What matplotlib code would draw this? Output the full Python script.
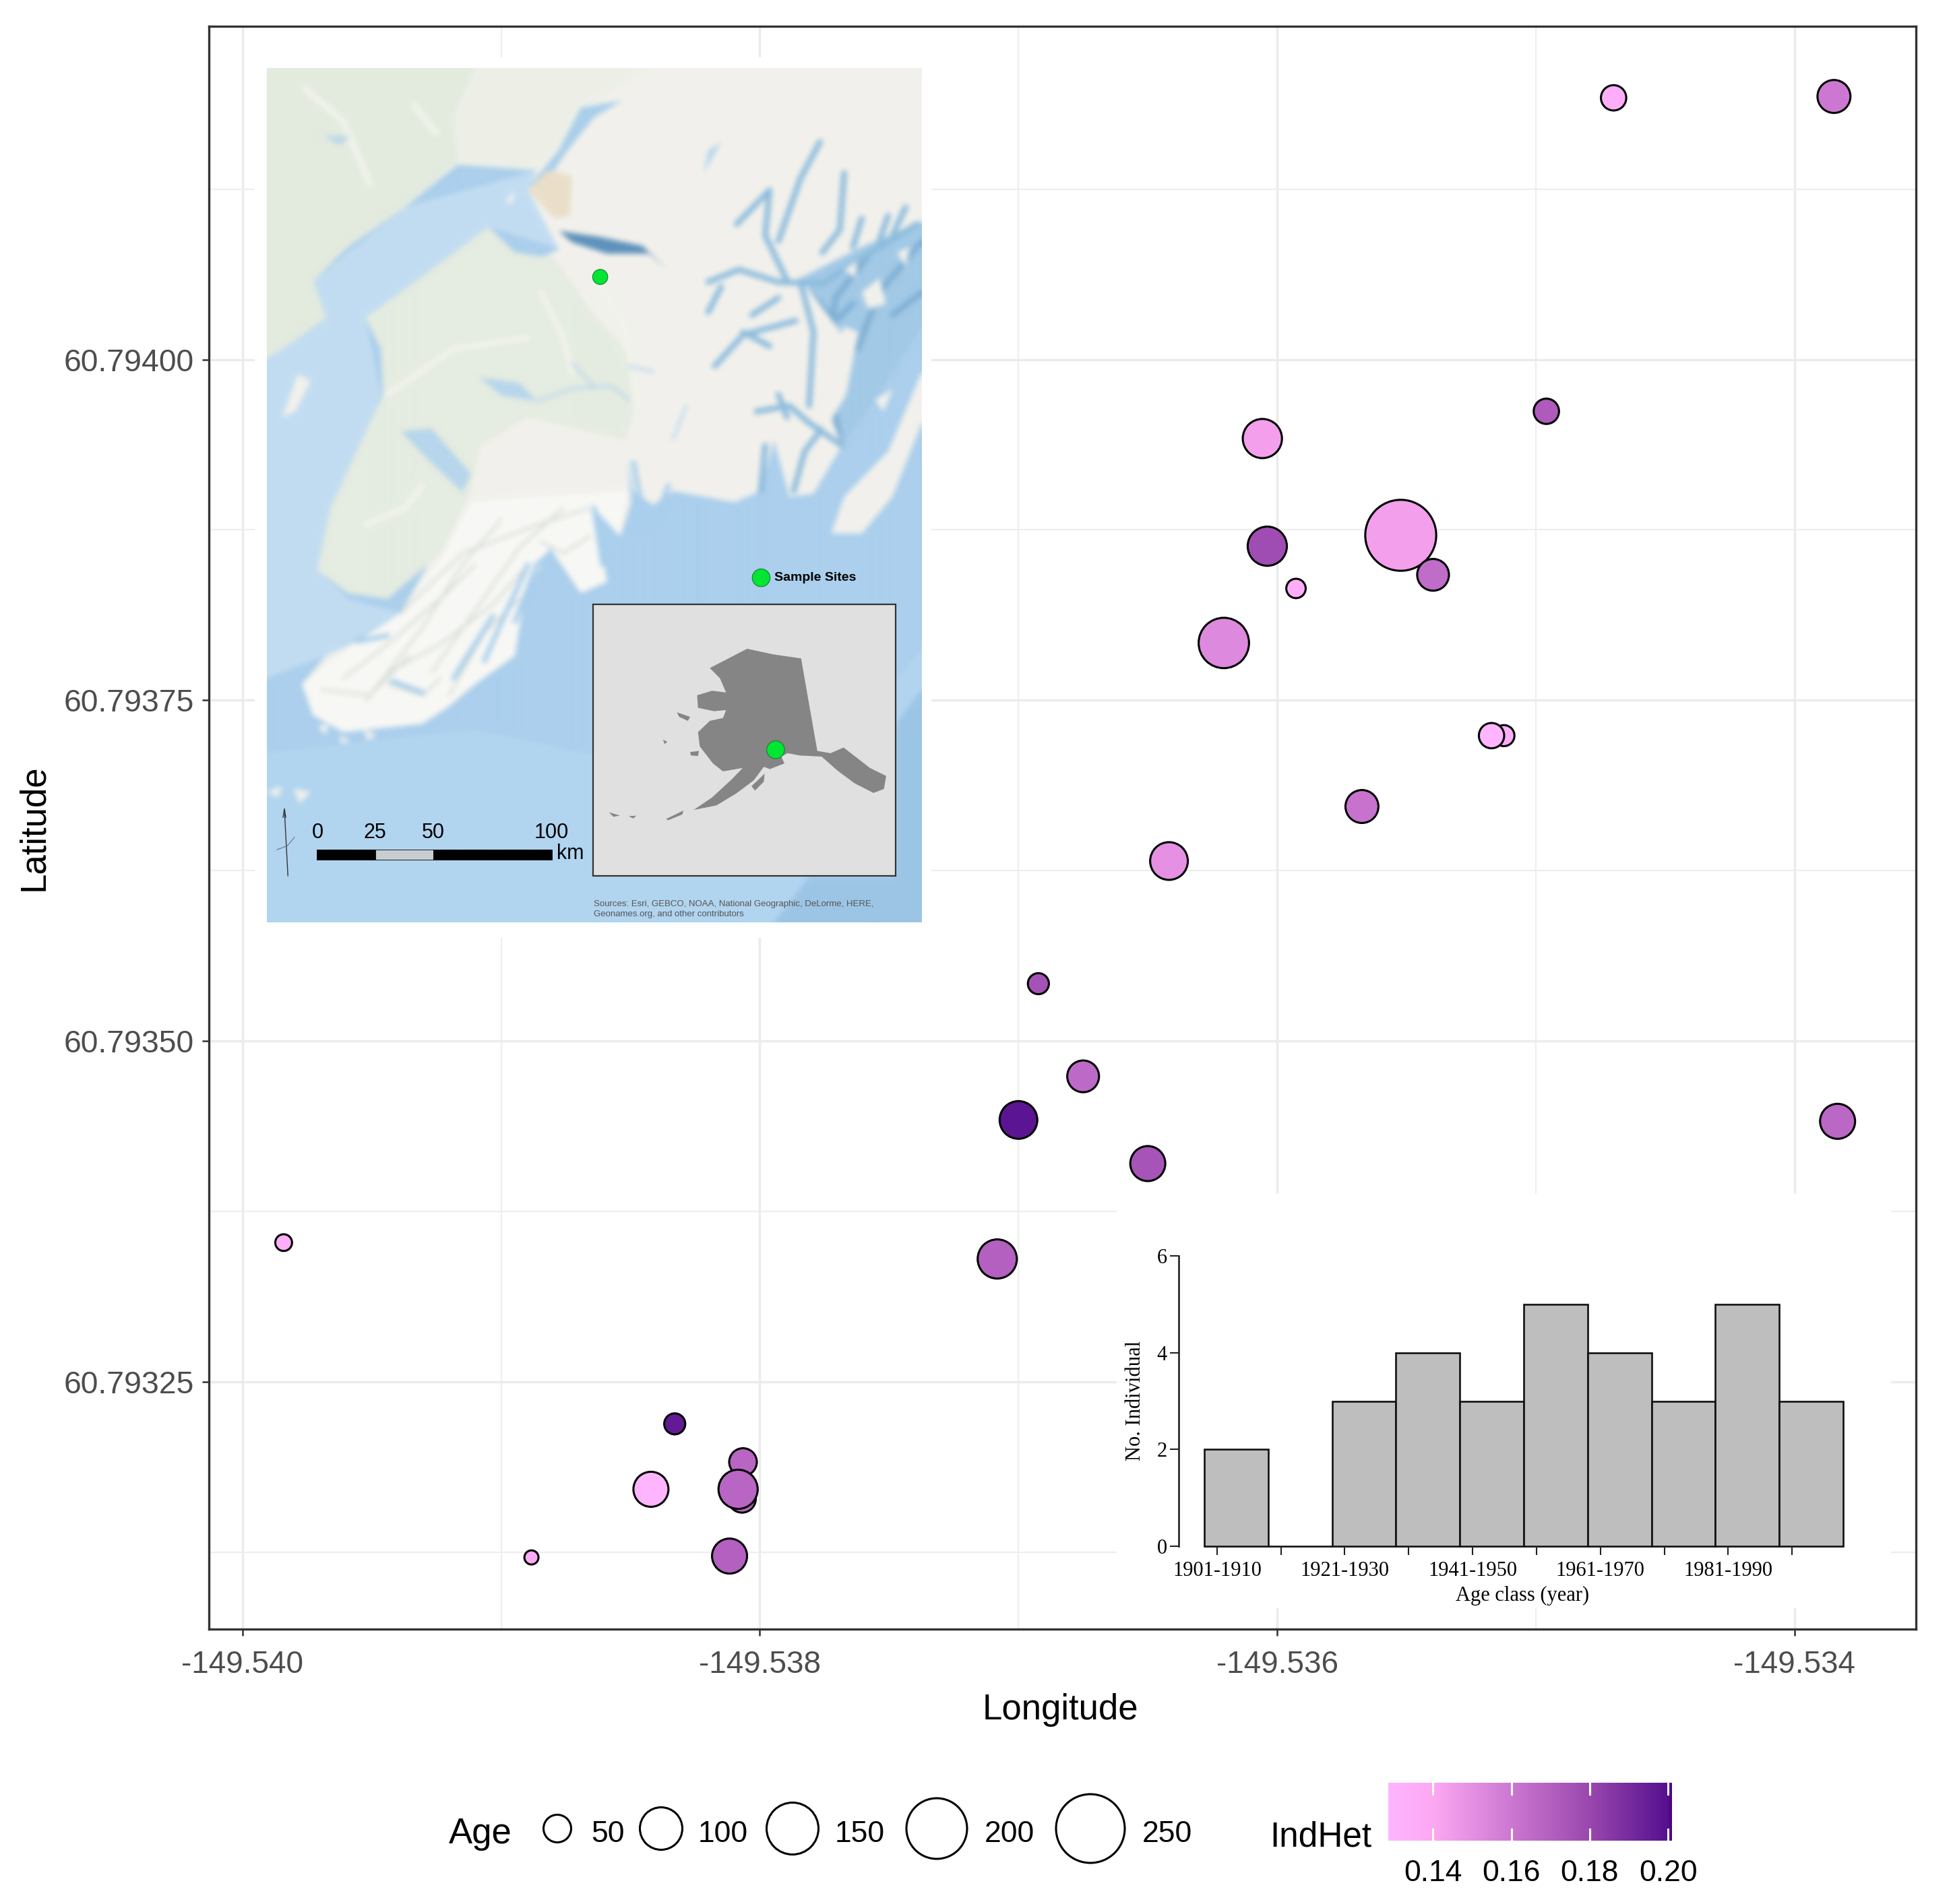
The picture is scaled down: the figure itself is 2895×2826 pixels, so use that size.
import numpy as np
import matplotlib
matplotlib.use("Agg")
import matplotlib.pyplot as plt
from matplotlib.colors import LinearSegmentedColormap
from matplotlib.patches import Rectangle, Polygon

W, H = 2895, 2826
SANS = "Liberation Sans"
SERIF = "Liberation Serif"

# ---- main scatter data
longitude = [-149.534699, -149.533847, -149.534959, -149.536057, -149.536038, -149.535522,
             -149.535397, -149.535927, -149.536206, -149.535123, -149.535171, -149.535672,
             -149.536418, -149.536923, -149.536750, -149.537000, -149.536500, -149.533833,
             -149.539841, -149.537082, -149.538329, -149.538065, -149.538069, -149.538084,
             -149.538421, -149.538883, -149.538117]
latitude = [60.794192, 60.794193, 60.793962, 60.793942, 60.793863, 60.793871,
            60.793842, 60.793832, 60.793792, 60.793724, 60.793724, 60.793672,
            60.793632, 60.793542, 60.793474, 60.793442, 60.793410, 60.793441,
            60.793352, 60.793340, 60.793219, 60.793191, 60.793164, 60.793171,
            60.793171, 60.793121, 60.793122]
age = [43, 68, 43, 89, 89, 258, 64, 25, 142, 30, 43, 68, 84, 30, 64, 84, 75, 75,
       17, 89, 30, 50, 50, 89, 75, 9, 75]
indhet = [0.135, 0.160, 0.172, 0.144, 0.178, 0.144, 0.165, 0.135, 0.153, 0.135, 0.130,
          0.162, 0.150, 0.176, 0.166, 0.198, 0.175, 0.167, 0.135, 0.170, 0.196, 0.168,
          0.168, 0.168, 0.130, 0.138, 0.170]
x_ticks = [-149.540, -149.538, -149.536, -149.534]
x_minor = [-149.539, -149.537, -149.535]
y_ticks = [60.79325, 60.79350, 60.79375, 60.79400]
y_minor = [60.793125, 60.793375, 60.793625, 60.793875, 60.794125]

# ---- legends
age_legend = [50, 100, 150, 200, 250]
age_table = [5, 50, 100, 150, 200, 250]
diam_table = [19, 41, 63, 77, 90, 102]
het_ticks = [0.14, 0.16, 0.18, 0.20]
het_limits = (0.1286, 0.201)
het_stops = [0.1286, 0.14, 0.16, 0.18, 0.20, 0.201]
het_colors = ["#FFB5FF", "#FDA8F2", "#CC78D2", "#9A48AE", "#56108F", "#4B0082"]

# ---- histogram
age_classes = ["1901-1910", "1911-1920", "1921-1930", "1931-1940", "1941-1950",
               "1951-1960", "1961-1970", "1971-1980", "1981-1990", "1991-2000"]
counts = [2, 0, 3, 4, 3, 5, 4, 3, 5, 3]

# ---- map outlines
map_land = [(25,25),(1517,25),(1517,295),(1380,340),(1240,395),(1360,520),(1310,640),(1335,690),
            (1270,775),(1215,780),(1180,680),(1150,770),(1090,790),(950,770),(905,795),(860,770),
            (845,715),(855,790),(830,850),(770,800),(800,930),(740,950),(670,870),(610,960),
            (590,1060),(500,1110),(440,1150),(380,1180),(300,1185),(200,1195),(130,1165),(105,1110),
            (160,1060),(240,1030),(330,985),(395,895),(300,960),(210,950),(140,910),(170,800),
            (260,650),(290,600),(285,520),(250,465),(400,380),(530,305),(575,345),(640,362),
            (690,345),(620,240),(640,205),(460,195),(340,270),(210,340),(130,400),(160,465),
            (60,520),(25,535)]
map_green_nw = [(25,25),(500,25),(450,110),(460,190),(340,270),(210,340),(130,400),(160,465),
                (60,520),(25,535)]
map_green_ne = [(500,25),(900,25),(760,90),(690,170),(640,205),(460,195),(450,110)]
map_green_pen = [(250,465),(400,380),(530,305),(590,350),(680,360),(760,450),(850,530),(860,640),
                 (840,680),(620,640),(510,690),(490,770),(420,880),(300,960),(210,950),(140,910),
                 (170,800),(260,650),(290,600),(285,520)]
map_snow = [(490,790),(640,780),(845,770),(830,850),(770,800),(800,930),(740,950),(670,870),
            (610,960),(590,1060),(500,1110),(380,1180),(200,1195),(130,1165),(105,1110),
            (240,1030),(330,985),(430,880)]
map_inlet_pale = [(25,535),(130,400),(340,270),(640,205),(700,345),(530,305),(250,465),(285,600),
                  (140,910),(210,960),(330,985),(160,1060),(25,1100)]
map_shelf_pale = [(25,1230),(500,1190),(800,1240),(1200,1200),(1458,1100),(1517,1050),(1517,1530),
                  (25,1530)]
map_deep = [(1458,1180),(1517,1120),(1517,1530),(1180,1530),(1260,1450),(1458,1450)]
map_knik = [(620,235),(690,170),(740,95),(835,82),(770,112),(705,175),(675,210)]
map_turnagain = [(690,312),(780,322),(880,338),(940,382),(895,352),(800,352),(720,332)]
map_anchorage = [(620,240),(665,205),(720,215),(715,285),(680,290)]
map_lakes = [[(330,665),(400,660),(490,740),(470,772),(380,705)],
             [(510,570),(600,580),(640,612),(560,602)],
             [(155,145),(215,145),(190,160)],
             [(1030,170),(1060,155),(1020,210)]]
map_rivers = [[(640,612),(720,590),(810,585),(850,610)],
              [(720,545),(770,585)],
              [(850,550),(905,560)],
              [(950,680),(980,620)]]
map_fjords = [[(1030,402),(1100,380),(1190,402),(1290,405),(1400,350),(1505,300)],
              [(1095,300),(1170,240),(1160,320),(1210,400)],
              [(1190,330),(1240,220),(1285,155)],
              [(1340,210),(1330,310),(1290,350)],
              [(1440,285),(1420,330)],
              [(1045,550),(1110,495),(1230,470)],
              [(1030,455),(1060,410)],
              [(1140,630),(1215,620),(1260,650),(1335,690)],
              [(1160,690),(1150,770)],
              [(1225,770),(1250,700),(1290,660)],
              [(1110,490),(1170,515)],
              [(1240,400),(1270,490),(1260,620)],
              [(1380,290),(1360,340)],
              [(1480,270),(1450,320)],
              [(1190,600),(1210,640)],
              [(1130,460),(1190,430)]]
map_sound_channels = [[(1400,350),(1320,430),(1300,560),(1330,680)],
                      [(1517,330),(1420,420),(1370,520)],
                      [(1450,460),(1517,420)],
                      [(1260,420),(1320,470),(1360,440)]]
map_bays = [[(770,800),(790,900)],
            [(620,900),(560,1000),(520,1070)],
            [(670,880),(640,900),(590,1000)],
            [(540,990),(450,1100)],
            [(380,1125),(310,1105)],
            [(860,720),(880,800),(870,840)],
            [(940,760),(905,830)],
            [(230,1035),(300,1025)]]
map_sound = [(1517,295),(1380,340),(1240,395),(1280,440),(1360,520),(1310,640),(1335,690),(1400,620),
             (1517,480)]
map_islands = [[(1310,845),(1340,780),(1440,700),(1517,560),(1517,650),(1450,780),(1380,845)],
               [(1270,625),(1340,480),(1372,490),(1345,600),(1295,665)],
               [(1380,420),(1420,395),(1435,440),(1395,450)],
               [(1410,610),(1450,590),(1430,630)],
               [(1340,380),(1370,365),(1365,395)],
               [(1460,350),(1490,340),(1480,375)],
               [(60,640),(95,565),(125,575),(90,630)],
               [(566,262),(590,240),(585,262)],
               [(25,1300),(60,1290),(50,1310)],
               [(85,1295),(125,1300),(100,1320)],
               [(140,1185),(165,1180),(160,1200)],
               [(190,1200),(215,1210),(195,1215)],
               [(245,1190),(275,1200),(255,1210)]]
map_ridges = [[(760,800),(640,830),(470,880),(330,985)],
              [(620,900),(540,970),(420,1040),(300,1090)],
              [(600,960),(520,1020),(440,1130)],
              [(760,850),(700,880),(650,860)],
              [(500,900),(420,960),(300,1040),(200,1100)],
              [(700,800),(600,870),(500,980),(400,1090)],
              [(560,820),(470,900),(380,1010),(250,1140)],
              [(300,1110),(380,1130),(420,1100)],
              [(150,1120),(260,1130),(350,1060)]]
map_green_strokes = [[(110,60),(200,120),(260,230)],
                     [(360,90),(410,140)],
                     [(300,600),(450,520),(620,500)],
                     [(650,420),(700,500),(720,560)],
                     [(250,830),(340,800),(380,760)],
                     [(780,400),(840,480),(870,620)]]
alaska = [(1035,1082),(1090,1060),(1120,1048),(1180,1058),(1243,1065),(1280,1228),(1310,1232),
          (1340,1222),(1400,1258),(1437,1272),(1432,1295),(1408,1302),(1365,1285),(1325,1262),
          (1290,1238),(1240,1236),(1212,1232),(1198,1238),(1205,1250),(1172,1260),(1158,1256),
          (1135,1280),(1095,1303),(1050,1324),(998,1332),(1040,1310),(1085,1278),(1110,1258),
          (1065,1264),(1042,1250),(1030,1238),(1012,1220),(1008,1195),(1035,1175),(1065,1170),
          (1072,1156),(1045,1158),(1008,1152),(1006,1130),(1040,1122),(1072,1125),(1058,1100)]
alaska_islands = [[(960,1160),(990,1168),(985,1175),(965,1168)],
                  [(990,1230),(1010,1228),(1008,1237),(992,1236)],
                  [(1130,1290),(1160,1268),(1158,1282),(1138,1298)],
                  [(935,1348),(975,1333),(972,1340),(940,1350)],
                  [(805,1336),(830,1342),(815,1344)],
                  [(850,1343),(868,1342),(860,1347)],
                  [(928,1208),(938,1212),(932,1216)]]
sample_points = [(785,393), (1152,923), (1185,1226)]
sample_diam = [34, 40, 40]
scale_segments = [(138,273,"black"), (273,405,"#C8CDD2"), (405,675,"black")]
scale_labels = [(140,"0"), (272,"25"), (405,"50"), (674,"100")]
source_text = ["Sources: Esri, GEBCO, NOAA, National Geographic, DeLorme, HERE,",
               "Geonames.org, and other contributors"]


def px_axes(fig, x0, y0, x1, y1, **kw):
    return fig.add_axes([x0 / W, 1 - y1 / H, (x1 - x0) / W, (y1 - y0) / H], **kw)


def diam_pts(a):
    return np.interp(a, age_table, diam_table) * 0.72 + np.maximum(np.asarray(a) - 250, 0) * 0.3


def render_basemap(w_px, h_px):
    """Draw the shaded map layers on a scratch canvas and soften them like the scanned original."""
    f = plt.figure(figsize=(w_px / 100, h_px / 100), dpi=100)
    a = f.add_axes([0, 0, 1, 1])
    a.set_xlim(25, 1517)
    a.set_ylim(1530, 25)
    a.axis("off")
    f.patch.set_facecolor("#ABCFEC")

    def poly(pts, color, z):
        a.add_patch(Polygon(pts, closed=True, fc=color, ec="none", zorder=z))

    def stroke(pts, color, lw, z):
        xs, ys = zip(*pts)
        a.plot(xs, ys, color=color, lw=lw, zorder=z, solid_capstyle="round", solid_joinstyle="round")

    poly(map_shelf_pale, "#B2D5F0", 1)
    poly(map_deep, "#9CC5E6", 1.1)
    poly(map_inlet_pale, "#C2DDF2", 1.2)
    poly(map_sound, "#A2C9E6", 1.3)
    for r in map_sound_channels:
        stroke(r, "#7FAFD4", 6, 1.4)
    poly(map_land, "#F2F1EC", 2)
    poly(map_green_nw, "#E3EBDF", 2.1)
    poly(map_green_ne, "#EDF0E8", 2.1)
    poly(map_green_pen, "#E5ECE1", 2.1)
    poly(map_snow, "#F8F8F5", 2.2)
    for r in map_ridges:
        stroke(r, "#D5DCD6", 2.4, 2.3)
    for r in map_green_strokes:
        stroke(r, "#F1F3EC", 7, 2.3)
    poly(map_knik, "#A9CFEA", 3)
    poly(map_anchorage, "#EADFC9", 3)
    poly(map_turnagain, "#5F92BC", 3)
    for lake in map_lakes:
        poly(lake, "#B7D6EC", 3)
    for r in map_rivers:
        stroke(r, "#B7D6EC", 2.5, 3)
    for r in map_fjords:
        stroke(r, "#8DBCDD", 6, 3)
    for r in map_bays:
        stroke(r, "#A9CFEC", 5, 3)
    for isl in map_islands:
        poly(isl, "#F2F1EC", 3.5)
    f.canvas.draw()
    img = np.asarray(f.canvas.buffer_rgba())[..., :3].astype(float)
    plt.close(f)
    kernel = np.ones(9) / 9
    for _ in range(2):
        for axis in (0, 1):
            pad_w = [(4, 4) if i == axis else (0, 0) for i in range(3)]
            padded = np.pad(img, pad_w, mode="edge")
            img = np.apply_along_axis(lambda v: np.convolve(v, kernel, mode="valid"), axis, padded)
    return img / 255


fig = plt.figure(figsize=(W / 100, H / 100), dpi=100, facecolor="white")
span = het_limits[1] - het_limits[0]
cmap = LinearSegmentedColormap.from_list("het", [((s - het_limits[0]) / span, c) for s, c in zip(het_stops, het_colors)])

# ---------------- main panel
ax = px_axes(fig, 310, 39, 2843, 2418)
ax.set_xlim(-149.54013, -149.53353)
ax.set_ylim(60.7930684, 60.7942445)
ax.set_axisbelow(True)
ax.set_xticks(x_ticks)
ax.set_yticks(y_ticks)
ax.set_xticks(x_minor, minor=True)
ax.set_yticks(y_minor, minor=True)
ax.set_xticklabels([f"{v:.3f}" for v in x_ticks], family=SANS, fontsize=33, color="#4D4D4D")
ax.set_yticklabels([f"{v:.5f}" for v in y_ticks], family=SANS, fontsize=33.4, color="#4D4D4D")
ax.grid(True, which="major", color="#EBEBEB", lw=2.4)
ax.grid(True, which="minor", color="#EEEEEE", lw=1.6)
ax.tick_params(which="major", length=7, width=1.8, color="#333333", pad=9)
ax.tick_params(axis="x", which="major", pad=15)
ax.tick_params(which="minor", length=0)
for s in ax.spines.values():
    s.set_color("#333333")
    s.set_linewidth(2.4)
ax.scatter(longitude, latitude, s=diam_pts(age) ** 2, c=indhet, cmap=cmap, vmin=het_limits[0],
           vmax=het_limits[1], edgecolors="black", linewidths=2.2, zorder=3)
fig.text(1573 / W, 1 - 2538 / H, "Longitude", family=SANS, fontsize=38, ha="center", va="center", color="black")
fig.text(50 / W, 1 - 1228 / H, "Latitude", family=SANS, fontsize=38, rotation=90, ha="center", va="center")

# ---------------- map inset
pad = px_axes(fig, 378, 85, 1382, 1392)
pad.axis("off")
pad.add_patch(Rectangle((0, 0), 1, 1, transform=pad.transAxes, color="white"))

m = px_axes(fig, 396, 101, 1367, 1369)
m.imshow(render_basemap(971, 1268), extent=[25, 1517, 1530, 25], aspect="auto", interpolation="bilinear", zorder=0)
m.set_xlim(25, 1517)
m.set_ylim(1530, 25)
m.set_xticks([])
m.set_yticks([])
for s in m.spines.values():
    s.set_visible(False)

m.add_patch(Rectangle((768, 970), 690, 478, fc="#E0E0E0", ec="#333333", lw=1.6, zorder=5))
m.add_patch(Polygon(alaska, closed=True, fc="#858585", ec="none", zorder=6))
for isl in alaska_islands:
    m.add_patch(Polygon(isl, closed=True, fc="#858585", ec="none", zorder=6))
xs, ys = zip(*sample_points)
m.scatter(xs, ys, s=[(d * .72 * .66) ** 2 for d in sample_diam], c="#00E632",
          edgecolors="#1C7A30", linewidths=0.8, zorder=7)
m.text(1182, 923, "Sample Sites", family=SANS, fontsize=14, fontweight="bold", va="center", zorder=7)
for a, b, c in scale_segments:
    m.add_patch(Rectangle((a, 1402), b - a, 18, fc=c, ec="black", lw=0.6, zorder=7))
for xv, t in scale_labels:
    m.text(xv, 1372, t, family=SANS, fontsize=22, ha="center", va="center", zorder=7)
m.text(685, 1409, "km", family=SANS, fontsize=22, ha="left", va="center", zorder=7)
m.plot([65, 73], [1332, 1448], color="#333333", lw=1.0, zorder=7)
m.plot([62, 65, 68], [1345, 1330, 1345], color="#333333", lw=1.0, zorder=7)
m.plot([48, 72, 88], [1402, 1395, 1380], color="#666666", lw=0.7, zorder=7)
for i, t in enumerate(source_text):
    m.text(770, 1498 + i * 18, t, family=SANS, fontsize=9.5, color="#555555", va="center", zorder=7)

# ---------------- histogram inset
pad2 = px_axes(fig, 1657, 1772, 2806, 2387)
pad2.axis("off")
pad2.add_patch(Rectangle((0, 0), 1, 1, transform=pad2.transAxes, color="white"))

h = px_axes(fig, 1749, 1864, 2735, 2295)
h.patch.set_alpha(0)
h.bar(range(len(counts)), counts, width=1.0, color="#BEBEBE", edgecolor="#111111", linewidth=1.9, clip_on=False)
h.set_xlim(-0.9, 9.5)
h.set_ylim(0, 6)
for s in ("top", "right", "bottom"):
    h.spines[s].set_visible(False)
h.spines["left"].set_linewidth(1.9)
h.spines["left"].set_color("#222222")
h.set_yticks([0, 2, 4, 6])
h.set_yticklabels(["0", "2", "4", "6"], family=SERIF, fontsize=22)
tick_pos = np.arange(len(counts)) - 0.3
h.set_xticks(tick_pos)
h.set_xticklabels([c if i % 2 == 0 else "" for i, c in enumerate(age_classes)], family=SERIF, fontsize=22)
h.tick_params(axis="both", length=9.5, width=1.5, color="#222222")
h.tick_params(axis="x", pad=6)
h.tick_params(axis="y", pad=3)
fig.text(2259 / W, 1 - 2368 / H, "Age class (year)", family=SERIF, fontsize=22, ha="center", va="center")
fig.text(1685 / W, 1 - 2079 / H, "No. Individual", family=SERIF, fontsize=22, rotation=90, ha="center", va="center")

# ---------------- legends (overlay in pixel coordinates)
leg = fig.add_axes([0, 0, 1, 1])
leg.set_xlim(0, W)
leg.set_ylim(H, 0)
leg.axis("off")
leg.patch.set_alpha(0)
fig.text(713 / W, 1 - 2722 / H, "Age", family=SANS, fontsize=38, ha="center", va="center")
size_x = [827, 981, 1176, 1390, 1618]
label_x = [902, 1073, 1276, 1498, 1732]
leg.scatter(size_x, [2714] * 5, s=diam_pts(age_legend) ** 2, facecolors="white", edgecolors="black", linewidths=2.2)
for lx, a in zip(label_x, age_legend):
    fig.text(lx / W, 1 - 2722 / H, str(a), family=SANS, fontsize=32, ha="center", va="center")
fig.text(1960 / W, 1 - 2727 / H, "IndHet", family=SANS, fontsize=37, ha="center", va="center")

cb = px_axes(fig, 2060, 2646, 2481, 2732)
grad = np.linspace(het_limits[0], het_limits[1], 256).reshape(1, -1)
cb.imshow(grad, aspect="auto", cmap=cmap, vmin=het_limits[0], vmax=het_limits[1],
          extent=[het_limits[0], het_limits[1], 0, 1])
cb.set_xlim(*het_limits)
cb.set_ylim(0, 1)
cb.set_yticks([])
cb.set_xticks([])
for s in cb.spines.values():
    s.set_visible(False)
for t in het_ticks:
    cb.plot([t, t], [0, 0.2], color="white", lw=2.2)
    cb.plot([t, t], [0.8, 1], color="white", lw=2.2)
    xp = 2060 + (t - het_limits[0]) / span * 421
    fig.text(xp / W, 1 - 2780 / H, f"{t:.2f}", family=SANS, fontsize=32, ha="center", va="center")

fig.savefig("out.png", dpi=100, facecolor="white")
